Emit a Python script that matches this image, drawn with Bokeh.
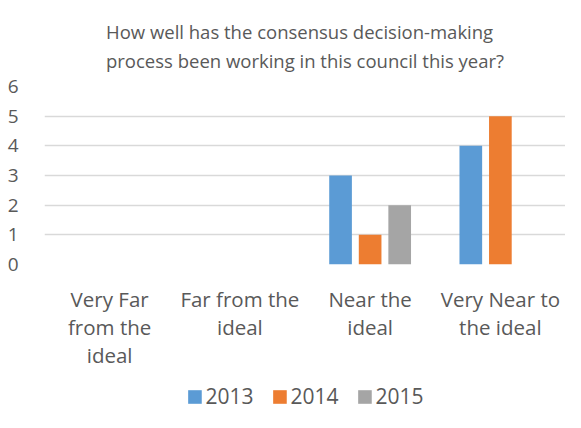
from bokeh.plotting import figure
from bokeh.models import ColumnDataSource, Legend, LegendItem, FactorRange, Range1d
from bokeh.layouts import column
from bokeh.transform import dodge
from bokeh.embed import file_html
from bokeh.resources import INLINE

categories = ["Very Far\nfrom the\nideal", "Far from the\nideal", "Near the\nideal", "Very Near to\nthe ideal"]
years = ["2013", "2014", "2015"]
v2013 = [0, 0, 3, 4]
v2014 = [0, 0, 1, 5]
v2015 = [0, 0, 2, 0]
y_ticks = [0, 1, 2, 3, 4, 5, 6]
colors = ["#5B9BD5", "#ED7D31", "#A5A5A5"]

FONT = "Open Sans"
TXT = "#595959"

src = ColumnDataSource(dict(cat=categories, y2013=v2013, y2014=v2014, y2015=v2015))

p = figure(width=565, height=380, x_range=FactorRange(*categories), y_range=(0, 6),
           output_backend="svg", toolbar_location=None,
           title="How well has the consensus decision-making\nprocess been working in this council this year?",
           min_border_left=44, min_border_right=0, min_border_top=86, min_border_bottom=116)
p.outline_line_color = None
p.background_fill_color = "white"
p.border_fill_color = "white"

p.title.align = "center"
p.title.text_font = FONT
p.title.text_font_size = "18.5px"
p.title.text_font_style = "normal"
p.title.text_color = TXT
p.title.text_line_height = 1.15
p.title.standoff = 28

offsets = [-0.227, 0.0, 0.227]
for yr, off, col in zip(years, offsets, colors):
    p.vbar(x=dodge("cat", off, range=p.x_range), top="y" + yr, width=0.174,
           source=src, fill_color=col, line_color=None)

p.xgrid.grid_line_color = None
p.ygrid.grid_line_color = "#D9D9D9"
p.ygrid.grid_line_width = 1.3

p.yaxis.axis_line_color = None
p.yaxis.major_tick_line_color = None
p.yaxis.minor_tick_line_color = None
p.yaxis.major_label_text_font = FONT
p.yaxis.major_label_text_font_size = "19px"
p.yaxis.major_label_text_color = TXT
p.yaxis.major_label_standoff = 20
p.yaxis.ticker = y_ticks

p.xaxis.axis_line_color = None
p.xaxis.major_tick_line_color = None
p.xaxis.minor_tick_line_color = None
p.xaxis.major_label_text_font = FONT
p.xaxis.major_label_text_font_size = "20.5px"
p.xaxis.major_label_text_color = TXT
p.xaxis.major_label_standoff = 14
p.xaxis.major_label_text_line_height = 1.0

# legend strip below the chart (its bars lie outside its visible y range)
lg = figure(width=565, height=32, x_range=p.x_range, y_range=Range1d(100, 101),
            output_backend="svg", toolbar_location=None,
            x_axis_location=None, y_axis_location=None,
            min_border_left=36, min_border_right=0, min_border_top=0, min_border_bottom=0)
lg.outline_line_color = None
lg.grid.grid_line_color = None
lg.border_fill_color = "white"
lrs = []
for yr, off, col in zip(years, offsets, colors):
    lrs.append(lg.vbar(x=dodge("cat", off, range=lg.x_range), top="y" + yr, width=0.174,
                       source=src, fill_color=col, line_color=None))
legend = Legend(items=[LegendItem(label=y, renderers=[r]) for y, r in zip(years, lrs)],
                orientation="horizontal", location="center",
                label_text_font=FONT, label_text_font_size="21px", label_text_color=TXT,
                glyph_width=17, glyph_height=17, spacing=17, label_standoff=3,
                border_line_color=None, background_fill_alpha=0, margin=0, padding=0)
lg.add_layout(legend, "center")

layout = column(p, lg, spacing=0)
open("out.html", "w").write(file_html(layout, INLINE))
